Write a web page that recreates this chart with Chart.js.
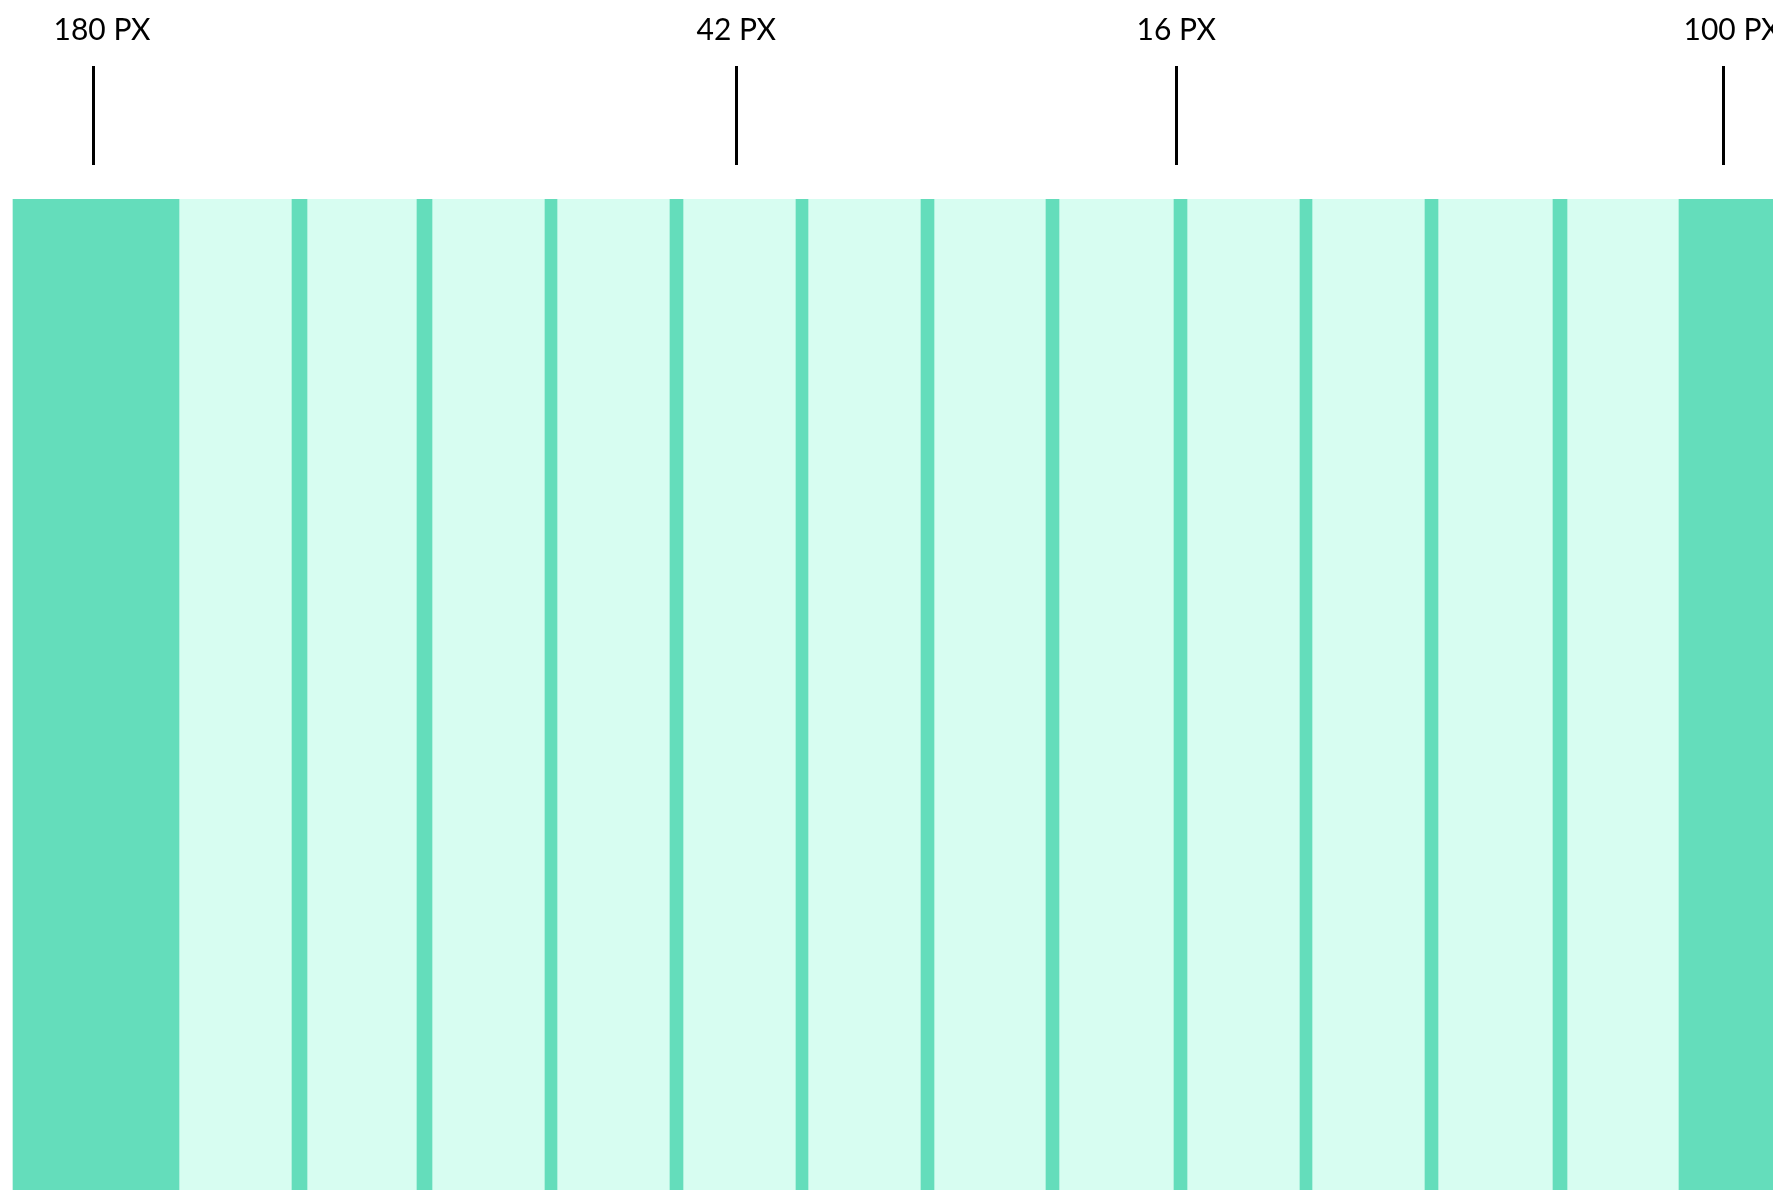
<!DOCTYPE html>
<html>
<head>
<meta charset="utf-8">
<script src="https://cdn.jsdelivr.net/npm/chart.js@4/dist/chart.umd.min.js"></script>
<style>
  html, body { margin: 0; padding: 0; background: #ffffff; }
  #wrap { width: 1773px; height: 1190px; position: relative; }
</style>
</head>
<body>
<div id="wrap"><canvas id="c" width="1773" height="1190"></canvas></div>
<script>
// ---- data (boundaries along the horizontal axis, in page units) ----
const margins = [[13, 179], [1679, 1773]];
const gutters = [[292, 307], [417, 432], [545, 557], [670, 683], [796, 808], [921, 934],
                 [1046, 1059], [1174, 1187], [1300, 1312], [1425, 1438], [1553, 1567]];
const columns = [[179, 292], [307, 417], [432, 545], [557, 670], [683, 796], [808, 921],
                 [934, 1046], [1059, 1174], [1187, 1300], [1312, 1425], [1438, 1553], [1567, 1679]];
const markerLabels = ['180 PX', '42 PX', '16 PX', '100 PX'];
const markerPositions = [93, 736, 1176, 1723];
const rowLabel = 'grid';

const DARK = '#64DDBB';
const LIGHT = '#D7FDF1';

const toBars = arr => arr.map(r => ({ x: r, y: rowLabel }));

const markerPlugin = {
  id: 'markers',
  afterDatasetsDraw(chart) {
    const ctx = chart.ctx;
    const xs = chart.scales.x;
    const top = chart.chartArea.top;
    ctx.save();
    ctx.strokeStyle = '#000000';
    ctx.lineWidth = 3;
    ctx.fillStyle = '#000000';
    ctx.font = '30px Lato, "Open Sans", sans-serif';
    ctx.textAlign = 'left';
    ctx.textBaseline = 'alphabetic';
    markerPositions.forEach((v, i) => {
      const px = Math.round(xs.getPixelForValue(v)) + 0.5;
      ctx.beginPath();
      ctx.moveTo(px, top - 133);
      ctx.lineTo(px, top - 34);
      ctx.stroke();
      ctx.fillText(markerLabels[i], px - 40, top - 159);
    });
    ctx.restore();
  }
};

new Chart(document.getElementById('c'), {
  type: 'bar',
  data: {
    labels: [rowLabel],
    datasets: [
      { label: 'margins', data: toBars(margins), backgroundColor: DARK },
      { label: 'gutters', data: toBars(gutters), backgroundColor: DARK },
      { label: 'columns', data: toBars(columns), backgroundColor: LIGHT }
    ]
  },
  options: {
    indexAxis: 'y',
    responsive: false,
    animation: false,
    maintainAspectRatio: false,
    layout: { padding: { top: 199, left: 0, right: 0, bottom: 0 } },
    datasets: {
      bar: {
        grouped: false,
        barPercentage: 1,
        categoryPercentage: 1,
        borderWidth: 0,
        borderSkipped: false
      }
    },
    scales: {
      x: { type: 'linear', min: 0, max: 1773, display: false },
      y: { type: 'category', display: false }
    },
    plugins: {
      legend: { display: false },
      tooltip: { enabled: false },
      title: { display: false }
    }
  },
  plugins: [markerPlugin]
});
</script>
</body>
</html>
